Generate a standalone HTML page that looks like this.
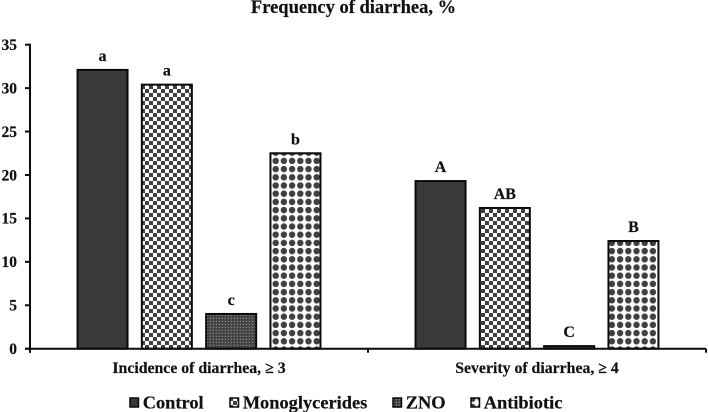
<!DOCTYPE html>
<html>
<head>
<meta charset="utf-8">
<style>
html,body{margin:0;padding:0;background:#fff;width:708px;height:412px;overflow:hidden}
svg{display:block}
text{font-family:"Liberation Serif",serif;font-weight:bold;fill:#111;stroke:#111;stroke-width:0.2px}
</style>
</head>
<body>
<svg id="chart" width="708" height="412" viewBox="0 0 708 412" xmlns="http://www.w3.org/2000/svg">
<defs>
<pattern id="p-control" patternUnits="userSpaceOnUse" width="4" height="4"><rect width="4" height="4" fill="#3a3a3a"/></pattern>
<pattern id="p-mono" patternUnits="userSpaceOnUse" width="8" height="8" x="1" y="1"><rect width="8" height="8" fill="#fff"/><rect width="4" height="4" fill="#404040"/><rect x="4" y="4" width="4" height="4" fill="#404040"/></pattern>
<pattern id="p-zno" patternUnits="userSpaceOnUse" width="3" height="3"><rect width="3" height="3" fill="#4a4a4a"/><rect width="1" height="1" fill="#888"/><rect x="1" y="1" width="1" height="1" fill="#333"/></pattern>
<pattern id="p-anti" patternUnits="userSpaceOnUse" width="8.2" height="8.2" x="1" y="1"><rect width="8.2" height="8.2" fill="#fff"/><circle cx="4.1" cy="4.1" r="3.2" fill="#404040"/></pattern>
</defs>
<text x="353.5" y="13" text-anchor="middle" font-size="18.5">Frequency of diarrhea, %</text>
<g id="plot"></g>
<g id="legend"></g>
</svg>
<script>
const categories = ["Incidence of diarrhea, \u2265 3", "Severity of diarrhea, \u2265 4"];
const seriesNames = ["Control", "Monoglycerides", "ZNO", "Antibiotic"];
const controlValues = [32.1, 19.3];
const monoglycerideValues = [30.4, 16.2];
const znoValues = [4.0, 0.3];
const antibioticValues = [22.5, 12.4];
const controlLetters = ["a", "A"];
const monoglycerideLetters = ["a", "AB"];
const znoLetters = ["c", "C"];
const antibioticLetters = ["b", "B"];
const yTicks = [0, 5, 10, 15, 20, 25, 30, 35];

const allValues = [controlValues, monoglycerideValues, znoValues, antibioticValues];
const allLetters = [controlLetters, monoglycerideLetters, znoLetters, antibioticLetters];
const fills = ["url(#p-control)", "url(#p-mono)", "url(#p-zno)", "url(#p-anti)"];
const slugs = ["control", "monoglycerides", "zno", "antibiotic"];

const NS = "http://www.w3.org/2000/svg";
const plot = document.getElementById("plot");
const legend = document.getElementById("legend");
const x0 = 30, x1 = 706, yBase = 348.7, yTop = 44.7, yMax = 35;
const groupW = (x1 - x0) / categories.length;
const pitch = 64.3, barW = 50;

function yScale(v) { return yBase - (v / yMax) * (yBase - yTop); }
function groupCenter(i) { return x0 + groupW * (i + 0.5); }
function barX(g, s) { return groupCenter(g) + (s - (allValues.length - 1) / 2) * pitch - barW / 2; }
function make(tag, attrs, parent) {
  const el = document.createElementNS(NS, tag);
  for (const k in attrs) el.setAttribute(k, attrs[k]);
  parent.appendChild(el);
  return el;
}

allValues.forEach(function (vals, s) {
  vals.forEach(function (v, g) {
    const bx = barX(g, s), by = yScale(v);
    const bar = make("rect", {x: bx, y: by, width: barW, height: Math.max(0, yBase - by), fill: fills[s], stroke: "#0a0a0a", "stroke-width": 2}, plot);
    
    
    const lab = make("text", {x: bx + barW / 2, y: by - 9, "text-anchor": "middle", "font-size": 16}, plot);
    lab.textContent = allLetters[s][g];
    
    
  });
});

const yAxis = make("line", {x1: x0, x2: x0, y1: yTop - 1, y2: yBase + 4, stroke: "#0a0a0a", "stroke-width": 2}, plot);


const xAxis = make("line", {x1: x0 - 5, x2: x1, y1: yBase, y2: yBase, stroke: "#0a0a0a", "stroke-width": 2}, plot);



yTicks.forEach(function (t) {
  const ty = yScale(t);
  const tick = make("line", {x1: x0 - 5, x2: x0, y1: ty, y2: ty, stroke: "#0a0a0a", "stroke-width": 2}, plot);
  
  
  const lab = make("text", {x: 17, y: ty + 5.3, "text-anchor": "end", "font-size": 15.5}, plot);
  lab.textContent = t;
  
  
});

for (let i = 0; i <= categories.length; i++) {
  const tx = x0 + groupW * i;
  const tick = make("line", {x1: tx, x2: tx, y1: yBase, y2: yBase + 4, stroke: "#0a0a0a", "stroke-width": 2}, plot);
  
  
}
categories.forEach(function (c, i) {
  const lab = make("text", {x: groupCenter(i), y: 373, "text-anchor": "middle", "font-size": 15.8}, plot);
  lab.textContent = c;
  
  
});

const legendSwatchX = [130, 230, 393, 471];
seriesNames.forEach(function (n, s) {
  const lx = legendSwatchX[s];
  const sw = make("rect", {x: lx, y: 398, width: 8.5, height: 9, fill: fills[s], stroke: "#0a0a0a", "stroke-width": 1.5}, legend);
  
  
  const lab = make("text", {x: lx + 12.7, y: 408.3, "font-size": 18.4}, legend);
  lab.textContent = n;
  
  
});
</script>
</body>
</html>
